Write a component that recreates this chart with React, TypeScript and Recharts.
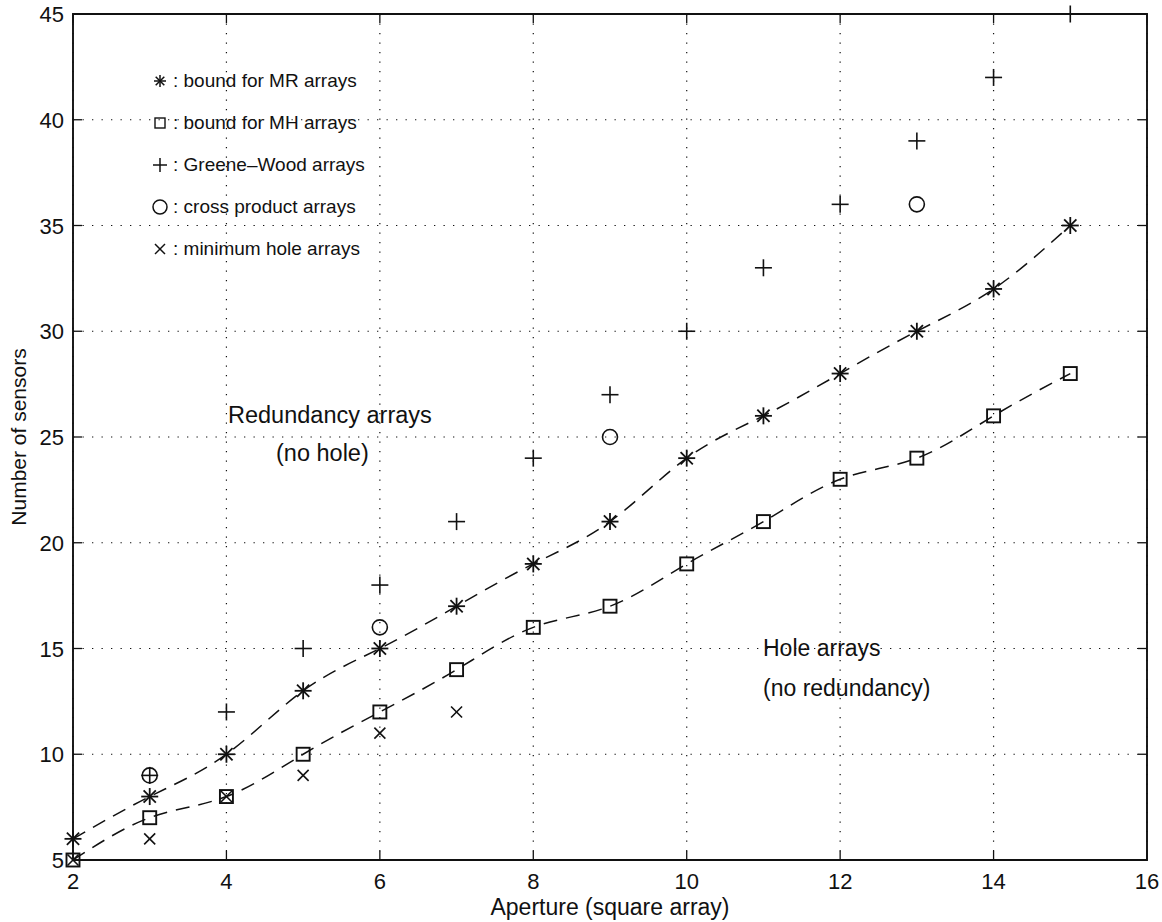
import React from "react";
import {
  ComposedChart,
  Line,
  Scatter,
  XAxis,
  YAxis,
  CartesianGrid,
  ReferenceArea,
} from "recharts";

// values
const apertures = [2, 3, 4, 5, 6, 7, 8, 9, 10, 11, 12, 13, 14, 15];
const mrBound = [6, 8, 10, 13, 15, 17, 19, 21, 24, 26, 28, 30, 32, 35];
const mhBound = [5, 7, 8, 10, 12, 14, 16, 17, 19, 21, 23, 24, 26, 28];

const gwApertures = [3, 4, 5, 6, 7, 8, 9, 10, 11, 12, 13, 14, 15];
const gwSensors = [9, 12, 15, 18, 21, 24, 27, 30, 33, 36, 39, 42, 45];

const cpApertures = [3, 6, 9, 13];
const cpSensors = [9, 16, 25, 36];

const minHoleApertures = [2, 3, 4, 5, 6, 7];
const minHoleSensors = [5, 6, 8, 9, 11, 12];

const xTicks = [2, 4, 6, 8, 10, 12, 14, 16];
const yTicks = [5, 10, 15, 20, 25, 30, 35, 40, 45];

const W = 1162;
const H = 922;
const LEFT = 73;
const RIGHT = 1147;
const TOP = 14;
const BOTTOM = 860;
const FONT = "'Liberation Sans', Arial, Helvetica, sans-serif";

const pts = (xs: number[], ys: number[]) => xs.map((x, i) => ({ x, y: ys[i] }));

const mrData = pts(apertures, mrBound);
const mhData = pts(apertures, mhBound);
const gwData = pts(gwApertures, gwSensors);
const cpData = pts(cpApertures, cpSensors);
const minHoleData = pts(minHoleApertures, minHoleSensors);

const ink = "#111";

function Star({ cx, cy, r = 8.5, w = 1.8 }: any) {
  const d = r * 0.72;
  return (
    <g stroke={ink} strokeWidth={w}>
      <line x1={cx - r} y1={cy} x2={cx + r} y2={cy} />
      <line x1={cx} y1={cy - r} x2={cx} y2={cy + r} />
      <line x1={cx - d} y1={cy - d} x2={cx + d} y2={cy + d} />
      <line x1={cx - d} y1={cy + d} x2={cx + d} y2={cy - d} />
    </g>
  );
}

function Square({ cx, cy, s = 13, w = 1.9 }: any) {
  return (
    <rect x={cx - s / 2} y={cy - s / 2} width={s} height={s} fill="none" stroke={ink} strokeWidth={w} />
  );
}

function Plus({ cx, cy, r = 8.5, w = 1.6 }: any) {
  return (
    <g stroke={ink} strokeWidth={w}>
      <line x1={cx - r} y1={cy} x2={cx + r} y2={cy} />
      <line x1={cx} y1={cy - r} x2={cx} y2={cy + r} />
    </g>
  );
}

function Circle({ cx, cy, r = 7.5, w = 1.6 }: any) {
  return <circle cx={cx} cy={cy} r={r} fill="none" stroke={ink} strokeWidth={w} />;
}

function Cross({ cx, cy, r = 5.5, w = 1.6 }: any) {
  return (
    <g stroke={ink} strokeWidth={w}>
      <line x1={cx - r} y1={cy - r} x2={cx + r} y2={cy + r} />
      <line x1={cx - r} y1={cy + r} x2={cx + r} y2={cy - r} />
    </g>
  );
}

function XTick({ x, payload }: any) {
  return (
    <g>
      <line x1={x} y1={BOTTOM} x2={x} y2={BOTTOM - 9} stroke={ink} strokeWidth={1.3} />
      <line x1={x} y1={TOP} x2={x} y2={TOP + 9} stroke={ink} strokeWidth={1.3} />
      <text x={x} y={BOTTOM + 29} textAnchor="middle" fontSize={22} fontFamily={FONT} fill={ink}>
        {payload.value}
      </text>
    </g>
  );
}

function YTick({ y, payload }: any) {
  return (
    <g>
      <line x1={LEFT} y1={y} x2={LEFT + 9} y2={y} stroke={ink} strokeWidth={1.3} />
      <line x1={RIGHT} y1={y} x2={RIGHT - 9} y2={y} stroke={ink} strokeWidth={1.3} />
      <text x={LEFT - 9} y={y + 8} textAnchor="end" fontSize={22} fontFamily={FONT} fill={ink}>
        {payload.value}
      </text>
    </g>
  );
}

const legendRows = [
  { label: ": bound for MR arrays", mark: (cx: number, cy: number) => <Star cx={cx} cy={cy} r={6} w={1.5} /> },
  { label: ": bound for MH arrays", mark: (cx: number, cy: number) => <Square cx={cx} cy={cy} s={10} w={1.4} /> },
  { label: ": Greene\u2013Wood arrays", mark: (cx: number, cy: number) => <Plus cx={cx} cy={cy} r={7} w={1.5} /> },
  { label: ": cross product arrays", mark: (cx: number, cy: number) => <Circle cx={cx} cy={cy} r={7} w={1.5} /> },
  { label: ": minimum hole arrays", mark: (cx: number, cy: number) => <Cross cx={cx} cy={cy} r={5} w={1.5} /> },
];

export default function App() {
  return (
    <div style={{ position: "absolute", left: 0, top: 0, width: W, height: H, background: "#fff" }}>
      <ComposedChart
        width={W}
        height={H}
        margin={{ top: TOP, right: W - RIGHT, bottom: 0, left: 0 }}
      >
        <CartesianGrid stroke={ink} strokeWidth={1.2} strokeDasharray="1.3 8.2" />
        <XAxis
          type="number"
          dataKey="x"
          domain={[2, 16]}
          ticks={xTicks}
          height={H - BOTTOM}
          axisLine={false}
          tickLine={false}
          tickSize={0}
          tick={<XTick />}
          interval={0}
        />
        <YAxis
          type="number"
          dataKey="y"
          domain={[5, 45]}
          ticks={yTicks}
          width={LEFT}
          axisLine={false}
          tickLine={false}
          tickSize={0}
          tick={<YTick />}
          interval={0}
        />
        <ReferenceArea x1={2} x2={16} y1={5} y2={45} fill="none" stroke={ink} strokeWidth={1.9} />
        <Line
          data={mrData}
          dataKey="y"
          type="natural"
          stroke={ink}
          strokeWidth={1.5}
          strokeDasharray="14 9"
          dot={false}
          isAnimationActive={false}
        />
        <Line
          data={mhData}
          dataKey="y"
          type="natural"
          stroke={ink}
          strokeWidth={1.5}
          strokeDasharray="14 9"
          dot={false}
          isAnimationActive={false}
        />
        <Scatter data={mrData} dataKey="y" shape={(p: any) => <Star cx={p.cx} cy={p.cy} />} isAnimationActive={false} />
        <Scatter data={mhData} dataKey="y" shape={(p: any) => <Square cx={p.cx} cy={p.cy} />} isAnimationActive={false} />
        <Scatter data={gwData} dataKey="y" shape={(p: any) => <Plus cx={p.cx} cy={p.cy} />} isAnimationActive={false} />
        <Scatter data={cpData} dataKey="y" shape={(p: any) => <Circle cx={p.cx} cy={p.cy} />} isAnimationActive={false} />
        <Scatter data={minHoleData} dataKey="y" shape={(p: any) => <Cross cx={p.cx} cy={p.cy} />} isAnimationActive={false} />
      </ComposedChart>

      <svg
        width={W}
        height={H}
        style={{ position: "absolute", left: 0, top: 0, pointerEvents: "none" }}
        fontFamily={FONT}
        fill={ink}
      >
        {legendRows.map((row, i) => {
          const cy = 81 + i * 42;
          return (
            <g key={row.label}>
              {row.mark(160, cy)}
              <text x={173} y={cy + 6} fontSize={19}>
                {row.label}
              </text>
            </g>
          );
        })}
        <text x={228} y={423} fontSize={23.5}>Redundancy arrays</text>
        <text x={276} y={461} fontSize={23.5}>(no hole)</text>
        <text x={763} y={656} fontSize={23}>Hole arrays</text>
        <text x={763} y={696} fontSize={23}>(no redundancy)</text>
        <text x={(LEFT + RIGHT) / 2} y={915} fontSize={23} textAnchor="middle">
          Aperture (square array)
        </text>
        <text
          x={26}
          y={(TOP + BOTTOM) / 2}
          fontSize={21}
          textAnchor="middle"
          transform={`rotate(-90 26 ${(TOP + BOTTOM) / 2})`}
        >
          Number of sensors
        </text>
      </svg>
    </div>
  );
}
